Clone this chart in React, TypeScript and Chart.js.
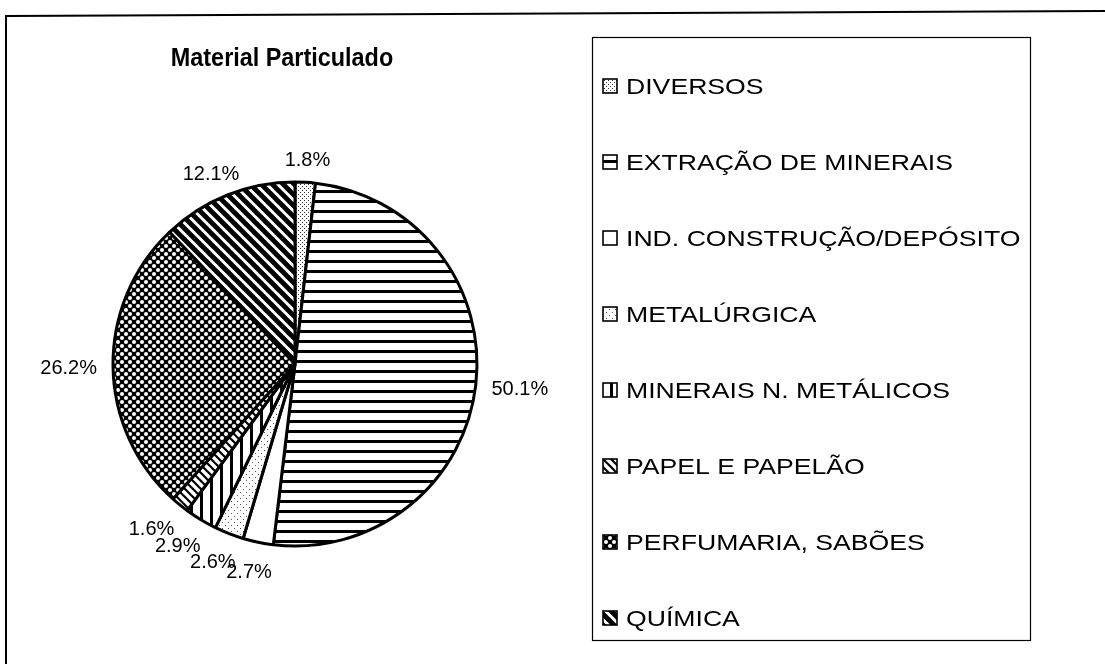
import React, { useEffect, useRef } from 'react';
import { Chart, registerables } from 'chart.js';

Chart.register(...registerables);

const chartTitle = 'Material Particulado';
const categories = [
  'DIVERSOS',
  'EXTRAÇÃO DE MINERAIS',
  'IND. CONSTRUÇÃO/DEPÓSITO',
  'METALÚRGICA',
  'MINERAIS N. METÁLICOS',
  'PAPEL E PAPELÃO',
  'PERFUMARIA, SABÕES',
  'QUÍMICA',
];
const shares = [1.8, 50.1, 2.7, 2.6, 2.9, 1.6, 26.2, 12.1];
const patternKinds = ['dots', 'hlines', 'blank', 'sparse', 'vlines', 'diag', 'checker', 'diagBold'];

const FONT = '"Liberation Sans", Arial, Helvetica, sans-serif';

function makePattern(kind: string): CanvasPattern | string {
  if (kind === 'blank') return '#ffffff';
  const c = document.createElement('canvas');
  let s = 8;
  if (kind === 'dots') s = 4;
  if (kind === 'hlines' || kind === 'vlines') s = 10;
  if (kind === 'sparse') s = 6;
  if (kind === 'diag') s = 8;
  if (kind === 'checker') s = 8;
  if (kind === 'diagBold') s = 11;
  c.width = s;
  c.height = s;
  const g = c.getContext('2d')!;
  g.fillStyle = '#ffffff';
  g.fillRect(0, 0, s, s);
  g.fillStyle = '#000000';
  g.strokeStyle = '#000000';
  if (kind === 'dots') {
    g.fillStyle = '#333';
    g.fillRect(0, 0, 1, 1);
    g.fillRect(2, 2, 1, 1);
  } else if (kind === 'sparse') {
    g.fillStyle = '#555';
    g.fillRect(0, 0, 1, 1);
    g.fillRect(3, 3, 1, 1);
  } else if (kind === 'hlines') {
    g.fillRect(0, 0, s, 3);
  } else if (kind === 'vlines') {
    g.fillRect(0, 0, 3, s);
  } else if (kind === 'diag' || kind === 'diagBold') {
    g.lineWidth = kind === 'diag' ? 2.2 : 4.8;
    for (let k = -1; k <= 1; k++) {
      g.beginPath();
      g.moveTo(-2, -2 + k * s);
      g.lineTo(s + 2, s + 2 + k * s);
      g.stroke();
    }
  } else if (kind === 'checker') {
    g.fillStyle = '#000';
    g.fillRect(0, 0, s, s);
    g.fillStyle = '#fff';
    const pts = [
      [2, 2],
      [6, 6],
    ];
    pts.forEach(([px, py]) => {
      g.beginPath();
      g.arc(px, py, 2.0, 0, Math.PI * 2);
      g.fill();
    });
  }
  const p = g.createPattern(c, 'repeat');
  return p || '#fff';
}

const decorPlugin = {
  id: 'decor',
  afterDatasetsDraw(chart: any) {
    const ctx = chart.ctx as CanvasRenderingContext2D;
    const meta = chart.getDatasetMeta(0);
    const total = shares.reduce((a, b) => a + b, 0);
    const fs = 20;
    ctx.save();
    ctx.font = `${fs}px ${FONT}`;
    ctx.fillStyle = '#000';
    ctx.textAlign = 'center';
    ctx.textBaseline = 'alphabetic';
    const gap = 16;
    meta.data.forEach((arc: any, i: number) => {
      const { x, y, startAngle, endAngle, outerRadius } = arc.getProps(
        ['x', 'y', 'startAngle', 'endAngle', 'outerRadius'],
        true
      );
      const mid = (startAngle + endAngle) / 2;
      const ux = Math.cos(mid);
      const uy = Math.sin(mid);
      const text = ((shares[i] / total) * 100).toFixed(1) + '%';
      const w = ctx.measureText(text).width;
      const h = 15;
      // small slices crowd together at the lower left: push them a little further out
      const extra = shares[i] / total < 0.04 && uy > 0 ? 6 : 0;
      const cx = x + (outerRadius + gap + extra) * ux + (w / 2) * ux;
      const cy = y + (outerRadius + gap + extra) * uy + (h / 2) * uy;
      ctx.fillText(text, cx, cy + fs * 0.36);
    });
    ctx.restore();
  },
  afterDraw(chart: any) {
    const ctx = chart.ctx as CanvasRenderingContext2D;
    const ds = chart.data.datasets[0];
    ctx.save();
    // outer frame
    ctx.strokeStyle = '#000';
    ctx.lineWidth = 2;
    ctx.beginPath();
    ctx.moveTo(6, chart.height);
    ctx.lineTo(6, 16);
    ctx.lineTo(chart.width, 11);
    ctx.stroke();

    // title
    ctx.fillStyle = '#000';
    ctx.font = `bold 26px ${FONT}`;
    ctx.textAlign = 'center';
    ctx.textBaseline = 'alphabetic';
    ctx.save();
    ctx.translate(282, 66);
    ctx.scale(0.9, 1);
    ctx.fillText(chartTitle, 0, 0);
    ctx.restore();

    // legend box
    const boxL = 592;
    const boxT = 37;
    const boxR = 1030;
    const boxB = 640;
    ctx.lineWidth = 1.2;
    ctx.strokeRect(boxL + 0.5, boxT + 0.5, boxR - boxL, boxB - boxT);

    const firstY = 86;
    const step = 76;
    const lfs = 22;
    ctx.font = `${lfs}px ${FONT}`;
    ctx.textAlign = 'left';
    categories.forEach((name, i) => {
      const cy = firstY + step * i;
      const mk = 14;
      const mx = 603;
      ctx.fillStyle = ds.backgroundColor[i];
      ctx.fillRect(mx, cy - mk / 2, mk, mk);
      ctx.strokeStyle = '#000';
      ctx.lineWidth = 1.6;
      ctx.strokeRect(mx, cy - mk / 2, mk, mk);
      ctx.fillStyle = '#000';
      ctx.save();
      ctx.translate(626, cy + lfs * 0.36);
      ctx.scale(1.21, 1);
      ctx.fillText(name, 0, 0);
      ctx.restore();
    });
    ctx.restore();
  },
};

export default function App() {
  const ref = useRef<HTMLCanvasElement>(null);
  useEffect(() => {
    if (!ref.current) return;
    const fills = patternKinds.map((k) => makePattern(k));
    const chart = new Chart(ref.current, {
      type: 'pie',
      data: {
        labels: categories,
        datasets: [
          {
            data: shares,
            backgroundColor: fills as any,
            borderColor: '#000',
            borderWidth: 3,
          },
        ],
      },
      options: {
        responsive: false,
        animation: false,
        radius: 182,
        rotation: 0,
        layout: { padding: { left: 0, right: 515, top: 64, bottom: 0 } },
        plugins: {
          legend: { display: false },
          title: { display: false },
          tooltip: { enabled: false },
        },
        events: [],
      } as any,
      plugins: [decorPlugin],
    });
    return () => chart.destroy();
  }, []);
  return (
    <div style={{ position: 'fixed', left: 0, top: 0, width: 1105, height: 664, background: '#fff' }}>
      <canvas ref={ref} width={1105} height={664} />
    </div>
  );
}
